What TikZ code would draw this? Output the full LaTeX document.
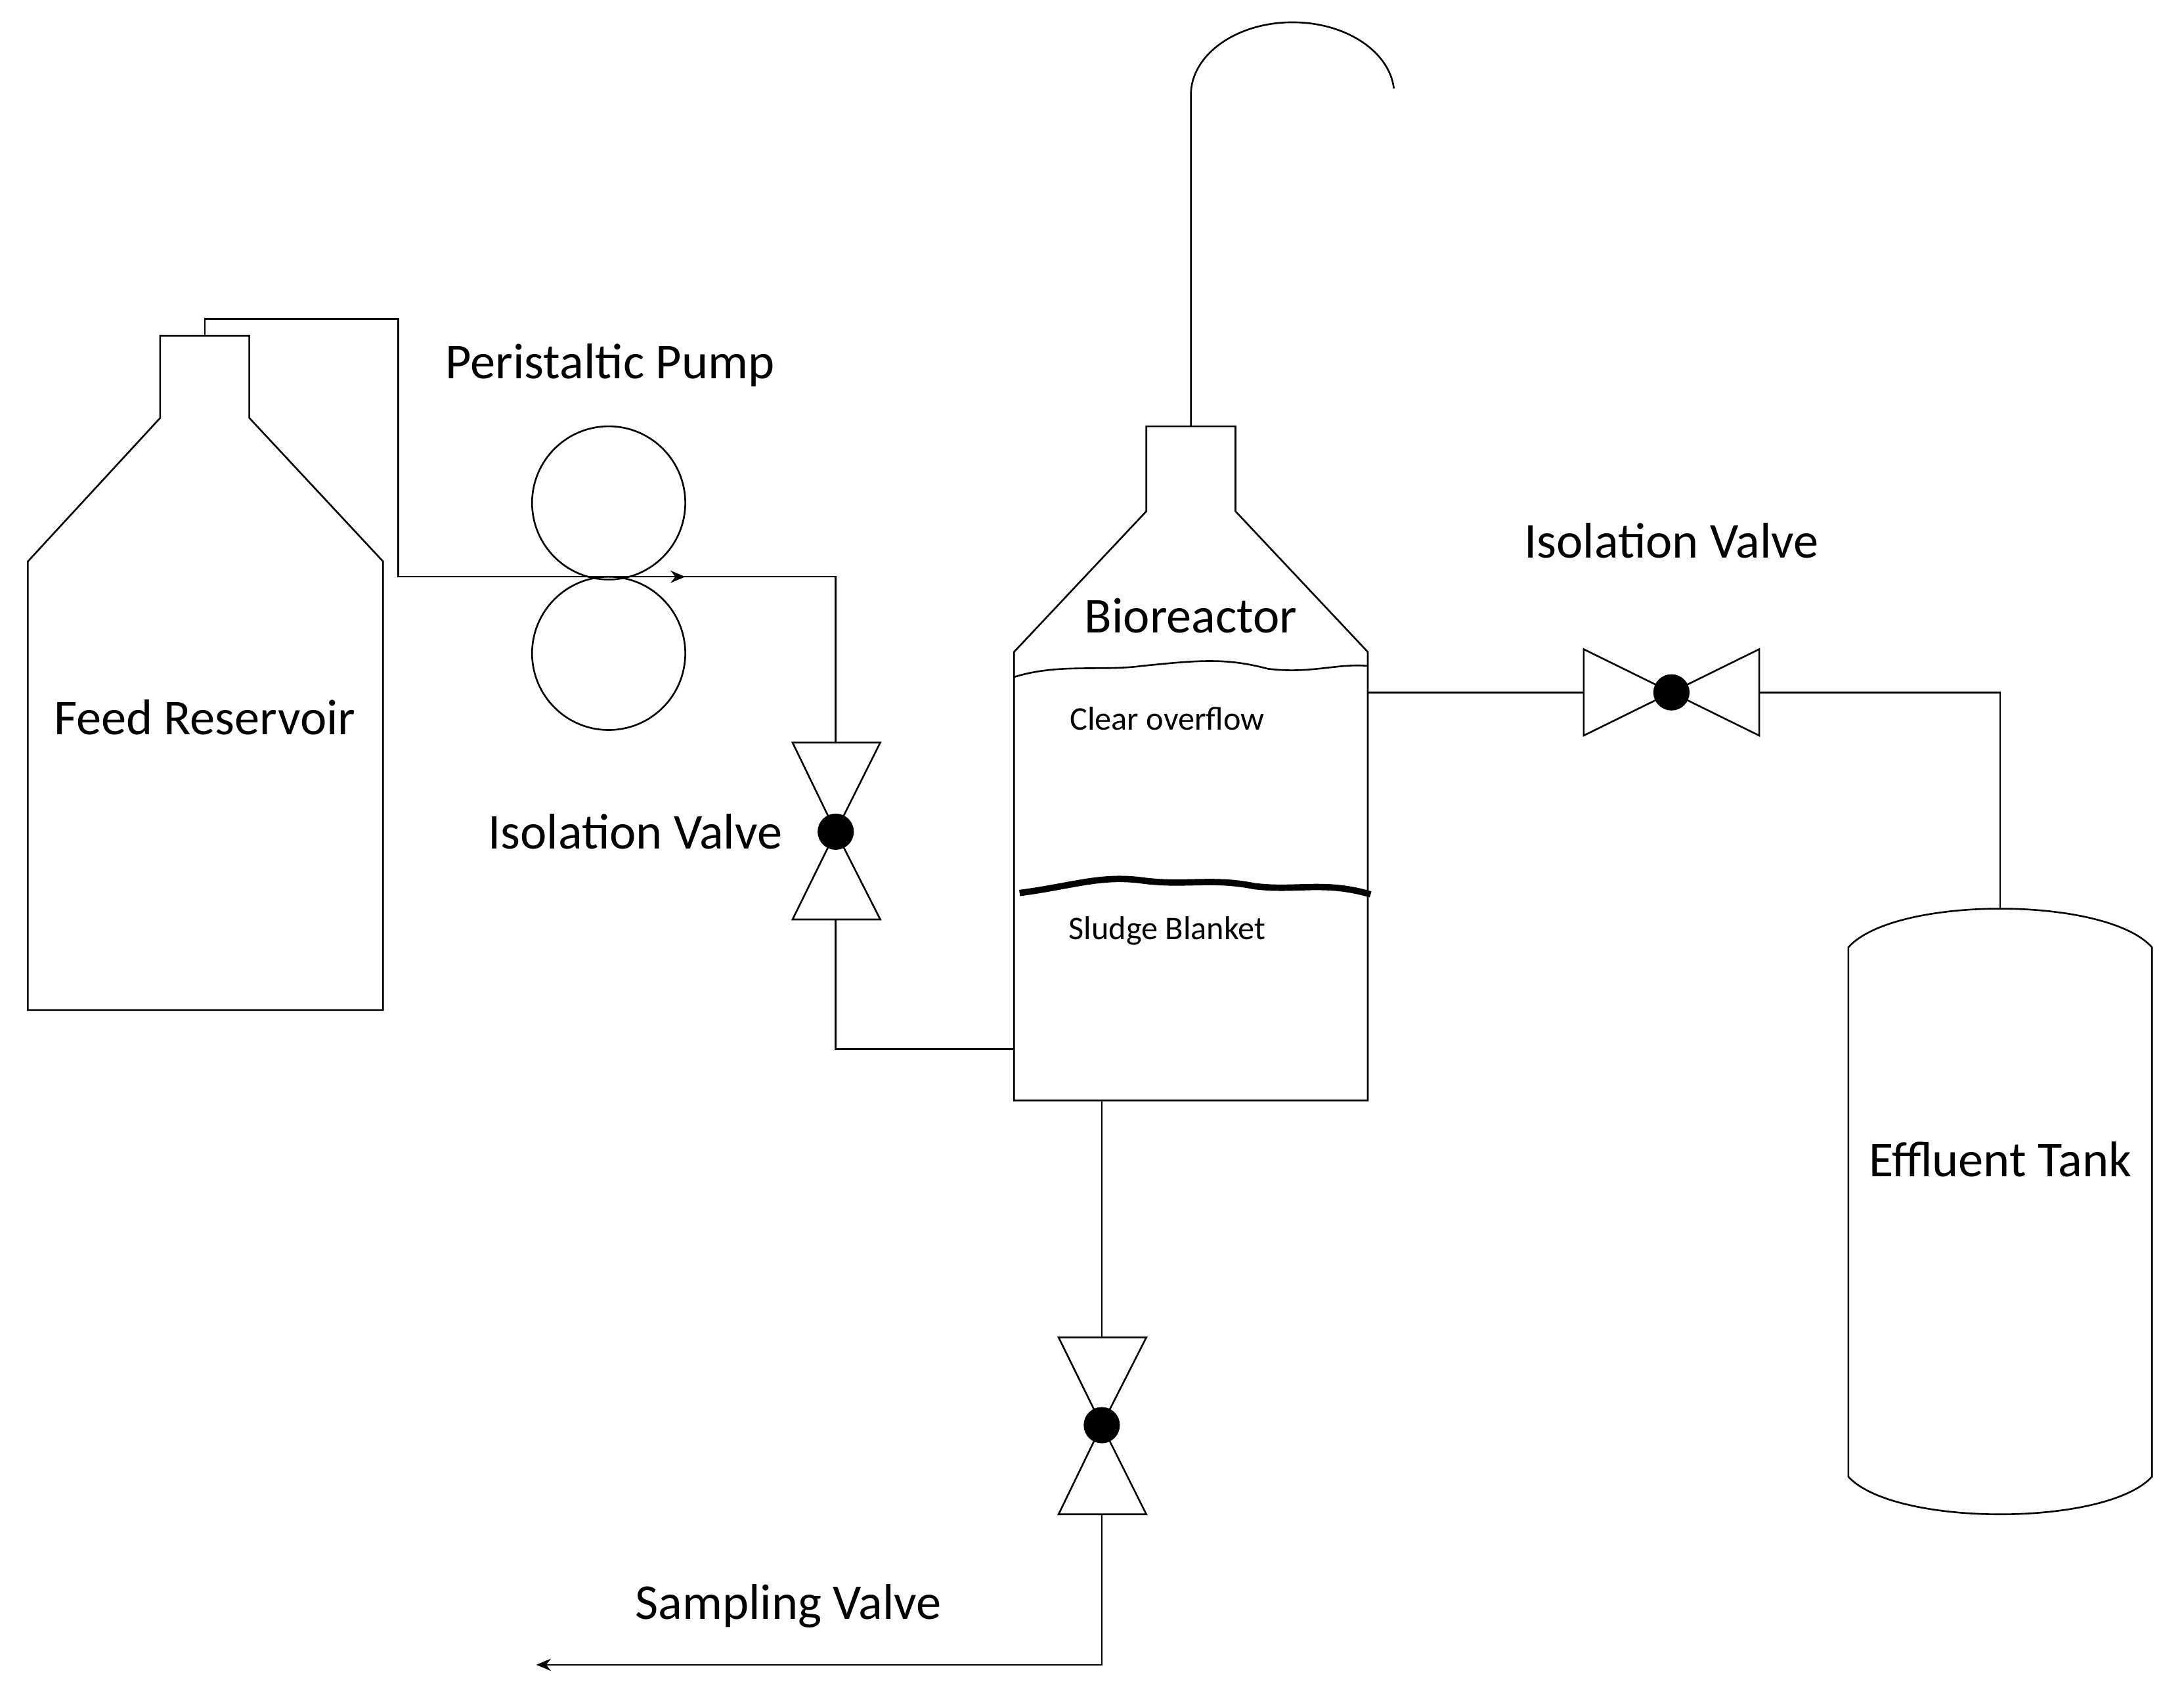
\documentclass[tikz,border=0pt]{standalone}
\usepackage{fontspec}
\setmainfont{Carlito}
\usetikzlibrary{arrows.meta}
\begin{document}
\begin{tikzpicture}[x=0.02cm,y=-0.02cm,line width=0.7pt,
  lbl/.style={font=\fontsize{20.5}{24}\selectfont},
  slbl/.style={font=\fontsize{13.5}{16}\selectfont},
  dot/.style={circle,fill=black,inner sep=0pt,minimum size=0.52cm}]
\useasboundingbox (0,0) rectangle (1568,1221);
% Feed reservoir
\draw (20,725) -- (20,403) -- (115,300) -- (115,241) -- (179,241) -- (179,300) -- (275,403) -- (275,725) -- cycle;
\node[lbl] (feed) at (147,515) {Feed Reservoir};
% pump
\draw (437,361) circle (55);
\draw (437,469) circle (55);
\node[lbl] (pump) at (438,262) {Peristaltic Pump};
\coordinate (v1t) at (600,533);
\draw (147,241) -- (147,229) -- (286,229) -- (286,414) -- (600,414) -- (v1t);
\draw[-{Stealth[length=6pt,width=5pt]}] (470,414) -- (492,414);
% valve 1
\draw (569,533) -- (632,533) -- (600,597) -- cycle;
\draw (600,597) -- (569,660) -- (632,660) -- cycle;
\node[dot] (v1) at (600,597) {};
\node[lbl] (v1l) at (456,597) {Isolation Valve};
\draw (600,660) -- (600,753) -- (728,753);
% bioreactor
\draw (728,790) -- (728,468) -- (823,367) -- (823,306) -- (887,306) -- (887,367) -- (982,468) -- (982,790) -- cycle;
\node[lbl] (bio) at (855,442) {Bioreactor};
\draw (855,306) -- (855,68) arc[start angle=180,end angle=355,x radius=73,y radius=52];
\draw (728,486) .. controls (760,476) and (790,482) .. (820,478) .. controls (860,474) and (880,472) .. (910,480) .. controls (940,484) and (960,476) .. (982,478);
\node[slbl] (clear) at (838,516) {Clear overflow};
\draw[line width=2.6pt] (732,641) .. controls (770,636) and (790,628) .. (820,632) .. controls (850,636) and (870,630) .. (900,636) .. controls (930,640) and (950,632) .. (984,642);
\node[slbl] (sludge) at (838,668) {Sludge Blanket};
% effluent valve
\draw (982,497) -- (1137,497);
\draw (1137,466) -- (1137,528) -- (1200,497) -- cycle;
\draw (1200,497) -- (1263,466) -- (1263,528) -- cycle;
\node[dot] (v2) at (1200,497) {};
\node[lbl] (v2l) at (1200,388) {Isolation Valve};
\draw (1263,497) -- (1436,497) -- (1436,652);
% effluent tank
\draw (1327,680) .. controls (1360,643) and (1512,643) .. (1545,680) -- (1545,1060) .. controls (1512,1096) and (1360,1096) .. (1327,1060) -- cycle;
\node[lbl] (eff) at (1436,832) {Effluent Tank};
% sampling
\draw (791,790) -- (791,960);
\draw (760,960) -- (823,960) -- (791,1023) -- cycle;
\draw (791,1023) -- (760,1087) -- (823,1087) -- cycle;
\node[dot] (v3) at (791,1023) {};
\coordinate (out) at (385,1195);
\draw[-{Stealth[length=6pt,width=5pt]}] (791,1087) -- (791,1195) -- (out);
\node[lbl] (samp) at (566,1153) {Sampling Valve};
\end{tikzpicture}
\end{document}
